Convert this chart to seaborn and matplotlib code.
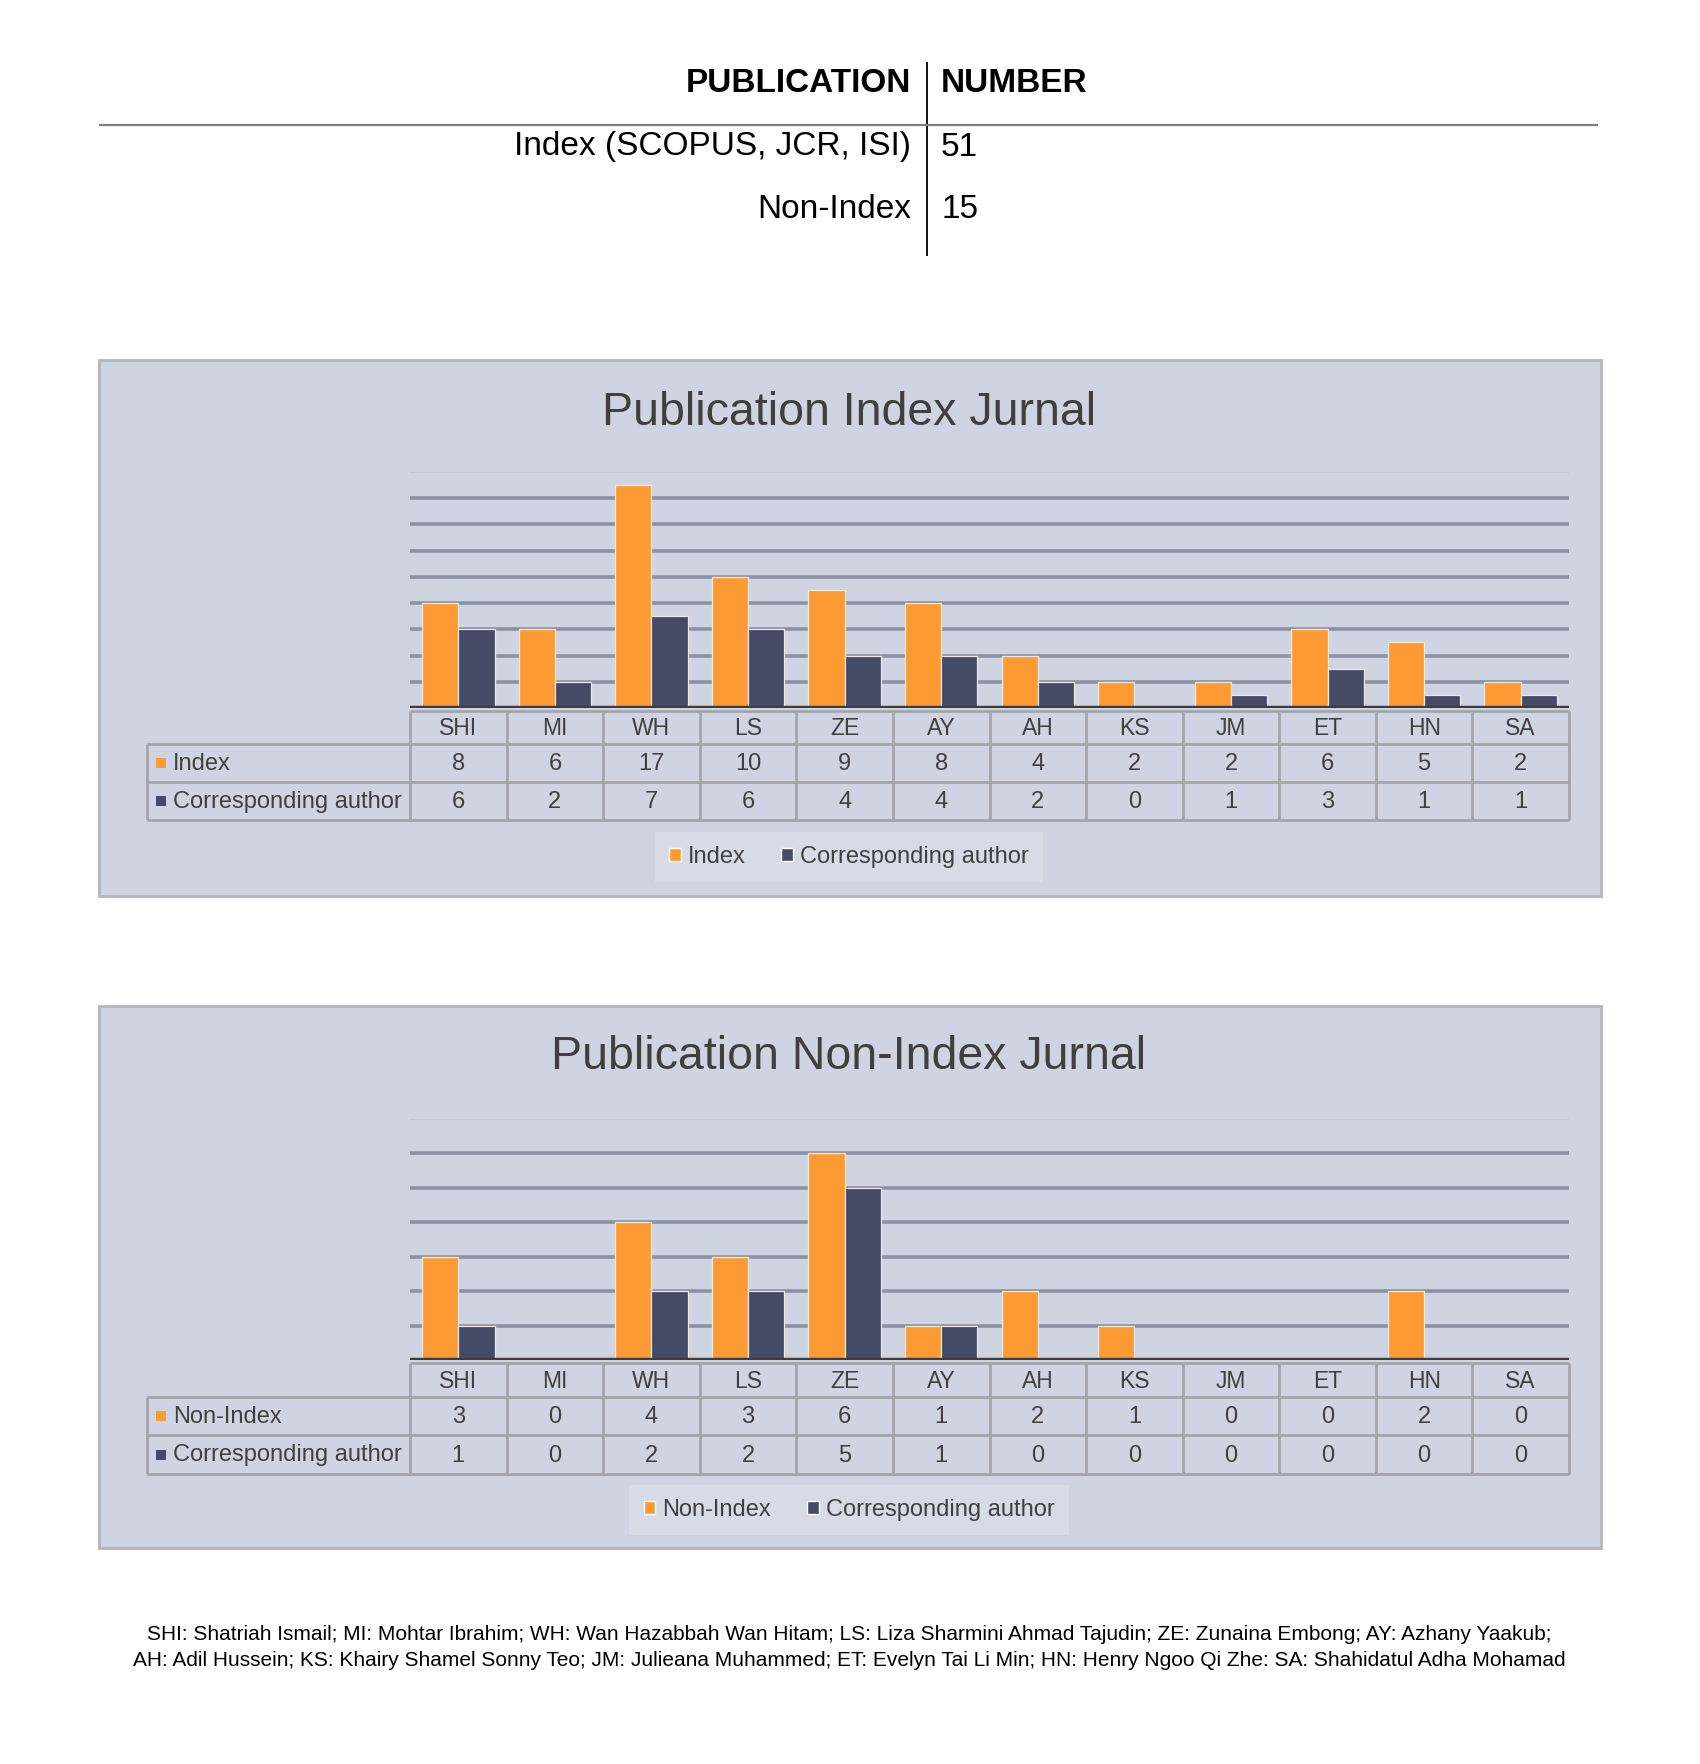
import numpy as np
import pandas as pd
import matplotlib
matplotlib.use("Agg")
import matplotlib.pyplot as plt
import seaborn as sns
from matplotlib.patches import Rectangle, Patch
from matplotlib.lines import Line2D
from matplotlib import font_manager

# ---------------- data ----------------
authors = ["SHI", "MI", "WH", "LS", "ZE", "AY", "AH", "KS", "JM", "ET", "HN", "SA"]
index_counts = [8, 6, 17, 10, 9, 8, 4, 2, 2, 6, 5, 2]
index_corresponding = [6, 2, 7, 6, 4, 4, 2, 0, 1, 3, 1, 1]
nonindex_counts = [3, 0, 4, 3, 6, 1, 2, 1, 0, 0, 2, 0]
nonindex_corresponding = [1, 0, 2, 2, 5, 1, 0, 0, 0, 0, 0, 0]

summary_headers = ["PUBLICATION", "NUMBER"]
summary_labels = ["Index (SCOPUS, JCR, ISI)", "Non-Index"]
summary_numbers = [51, 15]

footnote_lines = [
    "SHI: Shatriah Ismail; MI: Mohtar Ibrahim; WH: Wan Hazabbah Wan Hitam; LS: Liza Sharmini Ahmad Tajudin; ZE: Zunaina Embong; AY: Azhany Yaakub;",
    "AH: Adil Hussein; KS: Khairy Shamel Sonny Teo; JM: Julieana Muhammed; ET: Evelyn Tai Li Min; HN: Henry Ngoo Qi Zhe: SA: Shahidatul Adha Mohamad",
]

# ---------------- style ----------------
sns.set_style("white")
available = {f.name for f in font_manager.fontManager.ttflist}
fams = [f for f in ["Liberation Sans", "DejaVu Sans"] if f in available]
plt.rcParams["font.family"] = fams
ORANGE = "#FD9A33"
NAVY = "#454B66"
BG = "#CFD4E2"
LEGBG = "#DADDE8"
GRID = "#8C92A3"
TXT = "#404040"
BORDER = "#A3A5AA"

W, H = 1700, 1764
fig = plt.figure(figsize=(W / 100, H / 100), dpi=100)
fig.patch.set_facecolor("white")


def fx(x):
    return x / W


def fy(y):
    return 1 - y / H


def hline(x0, x1, y, color, lw):
    fig.add_artist(Line2D([fx(x0), fx(x1)], [fy(y), fy(y)], color=color, lw=lw,
                          transform=fig.transFigure, solid_capstyle="butt"))


def vline(x, y0, y1, color, lw):
    fig.add_artist(Line2D([fx(x), fx(x)], [fy(y0), fy(y1)], color=color, lw=lw,
                          transform=fig.transFigure, solid_capstyle="butt"))


# ---------------- top summary table ----------------
xc = 927
fig.text(fx(xc - 16), fy(83), summary_headers[0], ha="right", va="center",
         fontsize=24, fontweight="bold", color="black")
fig.text(fx(xc + 14), fy(83), summary_headers[1], ha="left", va="center",
         fontsize=24, fontweight="bold", color="black")
vline(xc, 62, 256, "black", 1.3)
hline(99, 1598, 125, "#7F7F7F", 1.6)
for lab, num, yy in zip(summary_labels, summary_numbers, [147, 210]):
    fig.text(fx(xc - 16), fy(yy), lab, ha="right", va="center", fontsize=24, color="black")
    fig.text(fx(xc + 14), fy(yy), str(num), ha="left", va="center", fontsize=24, color="black")


# ---------------- chart panels ----------------
def panel(top, bottom, title, title_y, ax_top, ax_bot, ymax, step,
          series_name, vals_a, vals_b, row_edges, leg_center):
    left, right = 99, 1601
    fig.add_artist(Rectangle((fx(left), fy(bottom)), fx(right) - fx(left), fy(top) - fy(bottom),
                             transform=fig.transFigure, facecolor=BG, edgecolor="#B4B6BC",
                             lw=2, zorder=0))
    fig.text(fx(849), fy(title_y), title, ha="center", va="center",
             fontsize=33.5, color=TXT)

    axl, axr = 410, 1569
    ax = fig.add_axes([fx(axl), fy(ax_bot), fx(axr) - fx(axl), fy(ax_top) - fy(ax_bot)])
    ax.set_facecolor("none")
    df = pd.DataFrame({
        "author": authors * 2,
        "count": list(vals_a) + list(vals_b),
        "series": [series_name] * len(authors) + ["Corresponding author"] * len(authors),
    })
    sns.barplot(data=df, x="author", y="count", hue="series", order=authors,
                hue_order=[series_name, "Corresponding author"],
                palette=[ORANGE, NAVY], saturation=1, width=0.75, ax=ax,
                legend=False, edgecolor="#EEEAE2", linewidth=0.9, zorder=3)
    ax.set_xlim(-0.5, len(authors) - 0.5)
    ax.set_ylim(0, ymax)
    ax.set_yticks(np.arange(step, ymax + step / 2, step))
    ax.yaxis.grid(True, color=GRID, lw=2.6, zorder=0)
    ax.set_axisbelow(True)
    gl = ax.get_ygridlines()
    gl[-1].set_color("#C3C7D3")
    gl[-1].set_linewidth(1.5)
    ax.axhline(0, color="#3D3D3D", lw=3.2, zorder=5)
    ax.tick_params(left=False, bottom=False, labelleft=False, labelbottom=False)
    ax.set_xlabel("")
    ax.set_ylabel("")
    for s in ax.spines.values():
        s.set_visible(False)

    # data table
    n = len(authors)
    colw = (axr - axl) / n
    lab_left = 147
    r0, r1, r2, r3 = row_edges
    hline(axl, axr, r0, BORDER, 2)
    for yy in (r1, r2, r3):
        hline(lab_left, axr, yy, BORDER, 2)
    for i in range(n + 1):
        vline(axl + i * colw, r0, r3, BORDER, 2)
    vline(lab_left, r1, r3, BORDER, 2)
    for i, a in enumerate(authors):
        cx = axl + (i + 0.5) * colw
        fig.text(fx(cx), fy((r0 + r1) / 2 + 1), a, ha="center", va="center", fontsize=16.5, color=TXT)
        fig.text(fx(cx), fy((r1 + r2) / 2 + 1), str(vals_a[i]), ha="center", va="center", fontsize=17, color=TXT)
        fig.text(fx(cx), fy((r2 + r3) / 2 + 1), str(vals_b[i]), ha="center", va="center", fontsize=17, color=TXT)
    for (ya, yb), lab, col in zip([(r1, r2), (r2, r3)], [series_name, "Corresponding author"], [ORANGE, NAVY]):
        ym = (ya + yb) / 2
        sq = 10
        fig.add_artist(Rectangle((fx(lab_left + 9), fy(ym + sq / 2)), sq / W, sq / H,
                                 transform=fig.transFigure, facecolor=col, edgecolor="none"))
        fig.text(fx(lab_left + 26), fy(ym + 1), lab, ha="left", va="center", fontsize=17, color=TXT)

    # legend
    handles = [Patch(facecolor=ORANGE), Patch(facecolor=NAVY)]
    leg = fig.legend(handles, [series_name, "Corresponding author"], loc="center",
                     bbox_to_anchor=(fx(leg_center[0]), fy(leg_center[1])), ncol=2,
                     frameon=True, fancybox=False, fontsize=17, handlelength=0.5,
                     handleheight=0.5, handletextpad=0.3, columnspacing=1.5,
                     borderpad=0.6, borderaxespad=0)
    leg.get_frame().set_facecolor(LEGBG)
    leg.get_frame().set_edgecolor("none")
    for t in leg.get_texts():
        t.set_color(TXT)
    return ax


panel(360, 896, "Publication Index Jurnal", 413, 472, 708, 18, 2,
      "Index", index_counts, index_corresponding, (711, 744, 782, 820), (849, 857))
panel(1006, 1548, "Publication Non-Index Jurnal", 1057, 1119, 1360, 7, 1,
      "Non-Index", nonindex_counts, nonindex_corresponding, (1363, 1397, 1435, 1474), (849, 1510))

# ---------------- footnote ----------------
for line, yy in zip(footnote_lines, [1635, 1661]):
    fig.text(fx(849), fy(yy), line, ha="center", va="center", fontsize=15, color="black")

fig.savefig("out.png", dpi=100, facecolor="white")
